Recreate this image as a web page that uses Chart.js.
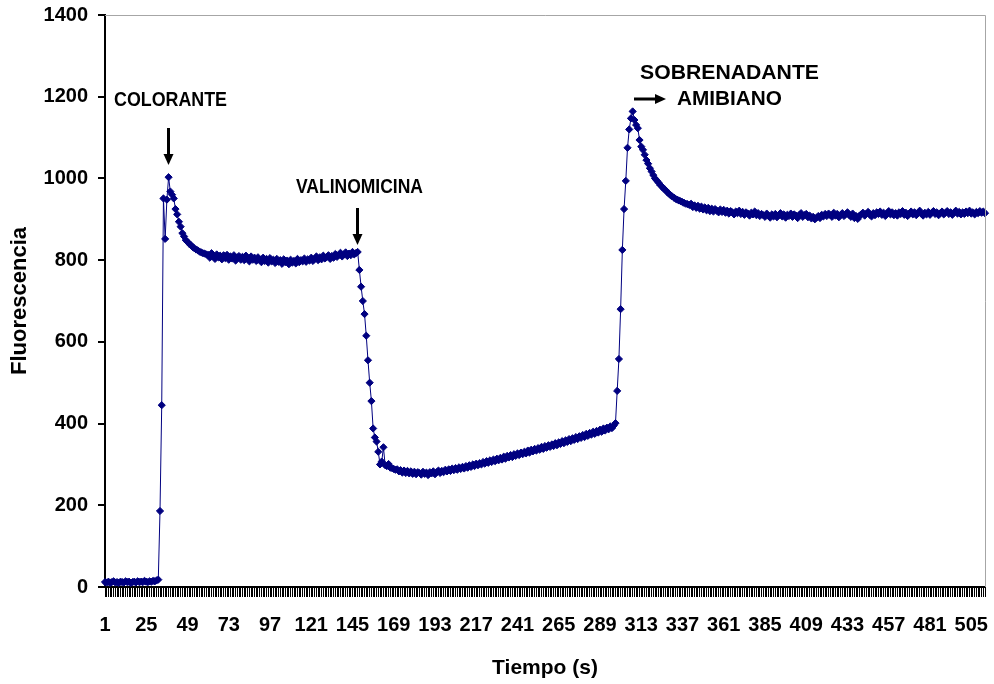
<!DOCTYPE html>
<html><head><meta charset="utf-8">
<script src="https://cdn.jsdelivr.net/npm/chart.js@4/dist/chart.umd.min.js"></script>
<style>html,body{margin:0;padding:0;background:#fff}canvas{display:block}</style>
</head><body>
<canvas id="c" width="994" height="684"></canvas>
<script>
// Fluorescence readings, one per second (index 0 = t 1 s)
const fluorescencia = [
/*   0 */ 12,11,13,10,12,14,11,12,10,13,
/*  10 */ 12,11,14,12,13,10,12,13,11,14,
/*  20 */ 12,13,12,15,13,12,14,13,15,14,
/*  30 */ 16,18,186,445,951,852,948,1003,968,960,
/*  40 */ 951,925,912,894,882,866,858,849,845,840,
/*  50 */ 837,832,829,826,824,821,819,817,816,814,
/*  60 */ 813,806,817,809,803,814,807,811,802,812,
/*  70 */ 805,813,801,809,804,812,799,807,810,801,
/*  80 */ 808,800,811,803,797,809,801,806,798,807,
/*  90 */ 800,795,806,798,803,794,805,797,801,793,
/* 100 */ 803,796,800,791,802,795,799,790,801,794,
/* 110 */ 798,792,803,795,800,797,804,796,802,799,
/* 120 */ 806,798,803,809,800,807,802,811,804,808,
/* 130 */ 812,803,810,806,815,808,812,818,809,814,
/* 140 */ 819,810,816,812,820,814,817,820,776,735,
/* 150 */ 700,668,615,555,500,455,388,366,356,331,
/* 160 */ 300,307,342,298,296,301,292,291,289,287,
/* 170 */ 288,283,286,280,285,279,284,278,283,277,
/* 180 */ 282,276,281,279,275,282,277,280,274,281,
/* 190 */ 278,283,276,281,285,279,284,281,287,283,
/* 200 */ 288,284,290,286,291,287,293,289,294,290,
/* 210 */ 296,292,298,294,300,296,302,298,303,300,
/* 220 */ 306,302,308,304,310,306,312,308,314,310,
/* 230 */ 316,312,319,314,321,317,323,318,325,321,
/* 240 */ 327,323,329,325,331,327,334,329,336,332,
/* 250 */ 338,334,340,336,343,338,345,341,347,343,
/* 260 */ 349,345,352,347,354,350,357,352,359,355,
/* 270 */ 362,357,364,360,367,362,369,365,372,367,
/* 280 */ 375,370,377,373,380,375,382,378,385,380,
/* 290 */ 388,383,390,386,393,389,395,401,480,558,
/* 300 */ 680,825,925,994,1075,1120,1147,1164,1143,1131,
/* 310 */ 1123,1094,1078,1070,1058,1045,1036,1025,1017,1008,
/* 320 */ 1000,995,990,984,980,975,972,967,963,959,
/* 330 */ 956,953,950,948,946,944,942,940,938,937,
/* 340 */ 935,938,930,934,928,933,926,931,924,929,
/* 350 */ 922,928,920,926,919,925,921,917,924,918,
/* 360 */ 923,916,921,914,920,917,912,919,915,921,
/* 370 */ 913,918,911,917,914,909,916,912,919,910,
/* 380 */ 915,908,913,910,906,914,909,904,912,907,
/* 390 */ 913,905,910,915,907,912,904,911,908,914,
/* 400 */ 906,912,909,903,911,915,906,910,913,905,
/* 410 */ 909,902,906,900,904,908,903,911,907,913,
/* 420 */ 908,914,910,906,916,909,913,905,911,915,
/* 430 */ 908,913,917,910,906,914,903,908,901,909,
/* 440 */ 912,916,909,914,918,911,907,915,910,917,
/* 450 */ 913,919,911,916,908,914,920,912,917,910,
/* 460 */ 915,909,917,913,920,911,916,908,914,919,
/* 470 */ 912,917,910,915,921,913,909,916,912,918,
/* 480 */ 911,916,920,913,917,910,915,919,912,916,
/* 490 */ 920,913,917,911,916,921,914,918,912,917,
/* 500 */ 913,919,915,921,914,917,912,918,915,920,
/* 510 */ 916,919,915
];

// Time labels shown on the x axis
const tickLabels = [1,25,49,73,97,121,145,169,193,217,241,265,289,313,337,361,385,409,433,457,481,505];
// y axis ticks
const yTicks = [0,200,400,600,800,1000,1200,1400];

// Categories: time in seconds (1 .. n)
const categories = fluorescencia.map((_, i) => i + 1);

const annotations = [
  {text: 'COLORANTE',    x: 114, y: 106,   size: 20, width: 113},
  {text: 'VALINOMICINA', x: 296, y: 192.7, size: 20, width: 127},
  {text: 'SOBRENADANTE', x: 640, y: 79.3,  size: 21, width: 179},
  {text: 'AMIBIANO',     x: 677, y: 105,   size: 21, width: 105}
];

const FONT = "'Liberation Sans', Arial, sans-serif";

const decorPlugin = {
  id: 'decor',
  afterDraw(chart) {
    const ctx = chart.ctx;
    const a = chart.chartArea;
    ctx.save();
    // gray frame top / right
    ctx.strokeStyle = '#a6a6a6';
    ctx.lineWidth = 1;
    ctx.beginPath();
    ctx.moveTo(a.left, a.top + 0.5);
    ctx.lineTo(a.right + 0.5, a.top + 0.5);
    ctx.lineTo(a.right + 0.5, a.bottom);
    ctx.stroke();

    // texts
    ctx.fillStyle = '#000';
    ctx.textBaseline = 'alphabetic';
    ctx.textAlign = 'left';
    annotations.forEach(t => {
      ctx.font = 'bold ' + t.size + 'px ' + FONT;
      const w = ctx.measureText(t.text).width;
      const sx = t.width / w;
      ctx.save();
      ctx.translate(t.x, t.y);
      ctx.scale(sx, 1);
      ctx.fillText(t.text, 0, 0);
      ctx.restore();
    });

    // arrows
    ctx.strokeStyle = '#000';
    ctx.fillStyle = '#000';
    ctx.lineWidth = 3;
    function down(x, y0, y1) {
      ctx.beginPath();
      ctx.moveTo(x, y0);
      ctx.lineTo(x, y1 - 8);
      ctx.stroke();
      ctx.beginPath();
      ctx.moveTo(x - 5, y1 - 11);
      ctx.lineTo(x + 5, y1 - 11);
      ctx.lineTo(x, y1);
      ctx.closePath();
      ctx.fill();
    }
    function right(x0, x1, y) {
      ctx.beginPath();
      ctx.moveTo(x0, y);
      ctx.lineTo(x1 - 8, y);
      ctx.stroke();
      ctx.beginPath();
      ctx.moveTo(x1 - 11, y - 5);
      ctx.lineTo(x1 - 11, y + 5);
      ctx.lineTo(x1, y);
      ctx.closePath();
      ctx.fill();
    }
    down(168.5, 128, 165);
    down(357.5, 208, 245);
    right(634, 666, 99);
    ctx.restore();
  }
};

new Chart(document.getElementById('c'), {
  type: 'line',
  data: {
    labels: categories,
    datasets: [{
      label: 'Fluorescencia',
      data: fluorescencia,
      borderColor: '#000080',
      borderWidth: 1,
      backgroundColor: '#000080',
      pointStyle: 'rectRot',
      pointRadius: 3.6,
      pointBorderWidth: 1,
      pointBorderColor: '#000080',
      pointBackgroundColor: '#000080',
      tension: 0,
      fill: false
    }]
  },
  options: {
    responsive: false,
    animation: false,
    events: [],
    layout: {padding: {left: 0, right: 9, top: 15, bottom: 0}},
    plugins: {legend: {display: false}, tooltip: {enabled: false}},
    scales: {
      x: {
        type: 'category',
        offset: false,
        afterFit(s) { s.height = 97; s.paddingLeft = 0; s.paddingRight = 0; },
        border: {display: true, color: '#000', width: 2},
        grid: {drawOnChartArea: false, drawTicks: true, tickLength: 10, tickColor: '#000', lineWidth: 1},
        ticks: {
          autoSkip: false, maxRotation: 0, minRotation: 0, padding: 16,
          color: '#000',
          font: {family: FONT, size: 20, weight: 'bold'},
          callback(v, i) { return tickLabels.includes(categories[i]) ? String(categories[i]) : ''; }
        },
        title: {display: true, text: 'Tiempo (s)', color: '#000',
          font: {family: FONT, size: 21, weight: 'bold'}, padding: {top: 0, bottom: 3}}
      },
      y: {
        min: 0, max: 1400,
        afterFit(s) { s.width = 105; s.paddingTop = 0; s.paddingBottom = 0; },
        afterBuildTicks(s) { s.ticks = yTicks.map(v => ({value: v})); },
        border: {display: true, color: '#000', width: 2},
        grid: {drawOnChartArea: false, drawTicks: true, tickLength: 7, tickColor: '#000', lineWidth: 2},
        ticks: {padding: 10, color: '#000', font: {family: FONT, size: 20, weight: 'bold'},
          callback(v) { return String(v); }},
        title: {display: true, text: 'Fluorescencia', color: '#000',
          font: {family: FONT, size: 22, weight: 'bold'}, padding: {top: 7, bottom: 0}}
      }
    }
  },
  plugins: [decorPlugin]
});
</script>
</body></html>
